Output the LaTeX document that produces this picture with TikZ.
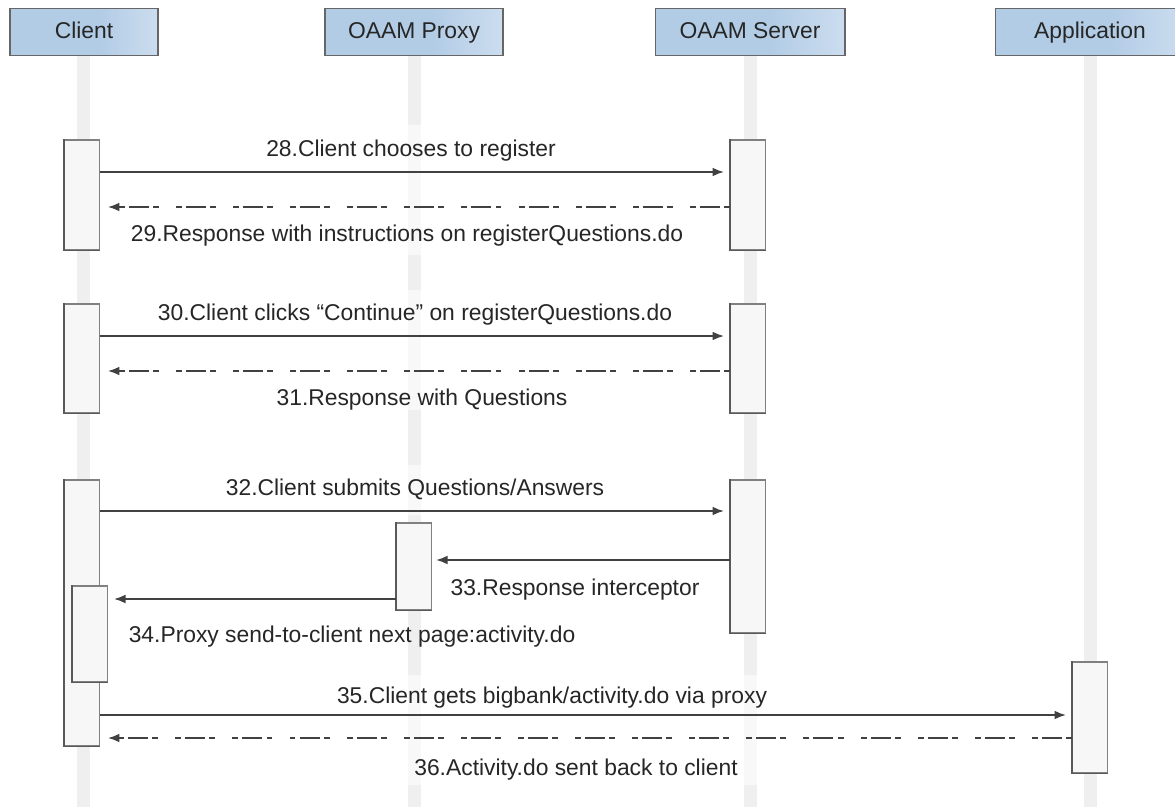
\documentclass[tikz,border=0pt]{standalone}
\usepackage{fontspec}
\setmainfont{Liberation Sans}
\usetikzlibrary{arrows.meta}
\definecolor{hb}{RGB}{178,204,230}
\definecolor{hl}{RGB}{236,242,249}
\definecolor{lifec}{RGB}{239,239,239}
\definecolor{linec}{RGB}{65,65,65}
\pgfdeclarehorizontalshading{hdrshade}{100bp}{color(0bp)=(hb); color(55bp)=(hb); color(100bp)=(hl)}
\tikzset{
  hdr/.style={draw=black!60, line width=0.6pt, shading=hdrshade, minimum height=0.94cm, inner sep=0pt, text height=1.6ex, text depth=0.3ex, font=\fontsize{13}{15}\selectfont, text=black!85},
  life/.style={draw=lifec, line width=7.4pt},
  act/.style={draw=black!50, line width=0.7pt, fill=black!3, minimum width=0.7cm, inner sep=0pt},
  actedge/.style={draw=black!65, line width=0.9pt},
  fade/.style={fill=white, opacity=0.6},
  msg/.style={draw=linec, line width=0.9pt, -{Latex[length=6.5pt,width=5pt]}},
  ret/.style={msg, dash pattern=on 3.4pt off 2.3pt on 11.4pt off 2.3pt on 3.4pt off 9.7pt},
  lbl/.style={inner sep=1pt, font=\fontsize{13}{15}\selectfont, text=black!85},
}
\begin{document}
\begin{tikzpicture}[x=0.02cm, y=-0.02cm]
\useasboundingbox (0,0) rectangle (1175,807);
\clip (0,0) rectangle (1175,807);
% headers
\node[hdr, minimum width=2.96cm] (client) at (84,32) {Client};
\node[hdr, minimum width=3.56cm] (proxy) at (414,32) {OAAM Proxy};
\node[hdr, minimum width=3.8cm] (server) at (750,32) {OAAM Server};
\node[hdr, minimum width=3.8cm] (app) at (1090,32) {Application};
% lifeline ends
\coordinate (cend) at (83,807);
\coordinate (pend) at (414,807);
\coordinate (send) at (750,807);
\coordinate (aend) at (1090,807);
\draw[life] (client.south -| cend) -- (cend);
\draw[life] (proxy.south -| pend) -- (pend);
\draw[life] (server.south -| send) -- (send);
\draw[life] (app.south -| aend) -- (aend);
% fading behind messages
\fill[fade] (100,125) rectangle (729,255);
\fill[fade] (100,290) rectangle (729,410);
\fill[fade] (100,465) rectangle (729,515);
\fill[fade] (433,555) rectangle (729,600);
\fill[fade] (108,595) rectangle (395,650);
\fill[fade] (100,675) rectangle (1072,785);
% activation boxes
\node[act, minimum height=2.2cm] (c1) at (82,195) {};
\node[act, minimum height=2.2cm] (s1) at (748,195) {};
\node[act, minimum height=2.18cm] (c2) at (82,358.5) {};
\node[act, minimum height=2.18cm] (s2) at (748,358.5) {};
\node[act, minimum height=5.32cm] (c3) at (82,613) {};
\node[act, minimum height=3.06cm] (s3) at (748,556.5) {};
\node[act, minimum height=1.74cm] (p3) at (414,566.5) {};
\node[act, minimum height=1.92cm] (c4) at (90,634) {};
\node[act, minimum height=2.22cm] (a5) at (1090,717.5) {};
\foreach \b in {c1,s1,c2,s2,c3,s3,p3,c4,a5}
  \draw[actedge] (\b.north west) -- (\b.south west) -- (\b.south east);
% message rows
\coordinate (y28) at (0,172);
\coordinate (y29) at (0,207);
\coordinate (y30) at (0,336);
\coordinate (y31) at (0,371);
\coordinate (y32) at (0,511);
\coordinate (y33) at (0,560);
\coordinate (y34) at (0,599);
\coordinate (y35) at (0,715);
\coordinate (y36) at (0,738);
\draw[msg, shorten >=3.4pt] (c1.east |- y28) -- (s1.west |- y28);
\draw[ret, shorten >=4.5pt] (s1.west |- y29) -- (c1.east |- y29);
\draw[msg, shorten >=3.4pt] (c2.east |- y30) -- (s2.west |- y30);
\draw[ret, shorten >=4.5pt] (s2.west |- y31) -- (c2.east |- y31);
\draw[msg, shorten >=3.4pt] (c3.east |- y32) -- (s3.west |- y32);
\draw[msg, shorten >=2.3pt] (s3.west |- y33) -- (p3.east |- y33);
\draw[msg, shorten >=3.4pt] (p3.west |- y34) -- (c4.east |- y34);
\draw[msg, shorten >=3.4pt] (c3.east |- y35) -- (a5.west |- y35);
\draw[ret, shorten >=4.5pt] (a5.west |- y36) -- (c3.east |- y36);
% labels
\node[lbl] (l28) at (411,151) {28.Client chooses to register};
\node[lbl] (l29) at (407,236) {29.Response with instructions on registerQuestions.do};
\node[lbl] (l30) at (415,315) {30.Client clicks “Continue” on registerQuestions.do};
\node[lbl] (l31) at (422,400) {31.Response with Questions};
\node[lbl] (l32) at (415,489) {32.Client submits Questions/Answers};
\node[lbl] (l33) at (575,590) {33.Response interceptor};
\node[lbl] (l34) at (352,637) {34.Proxy send-to-client next page:activity.do};
\node[lbl] (l35) at (552,698) {35.Client gets bigbank/activity.do via proxy};
\node[lbl] (l36) at (576,770) {36.Activity.do sent back to client};
\end{tikzpicture}
\end{document}
